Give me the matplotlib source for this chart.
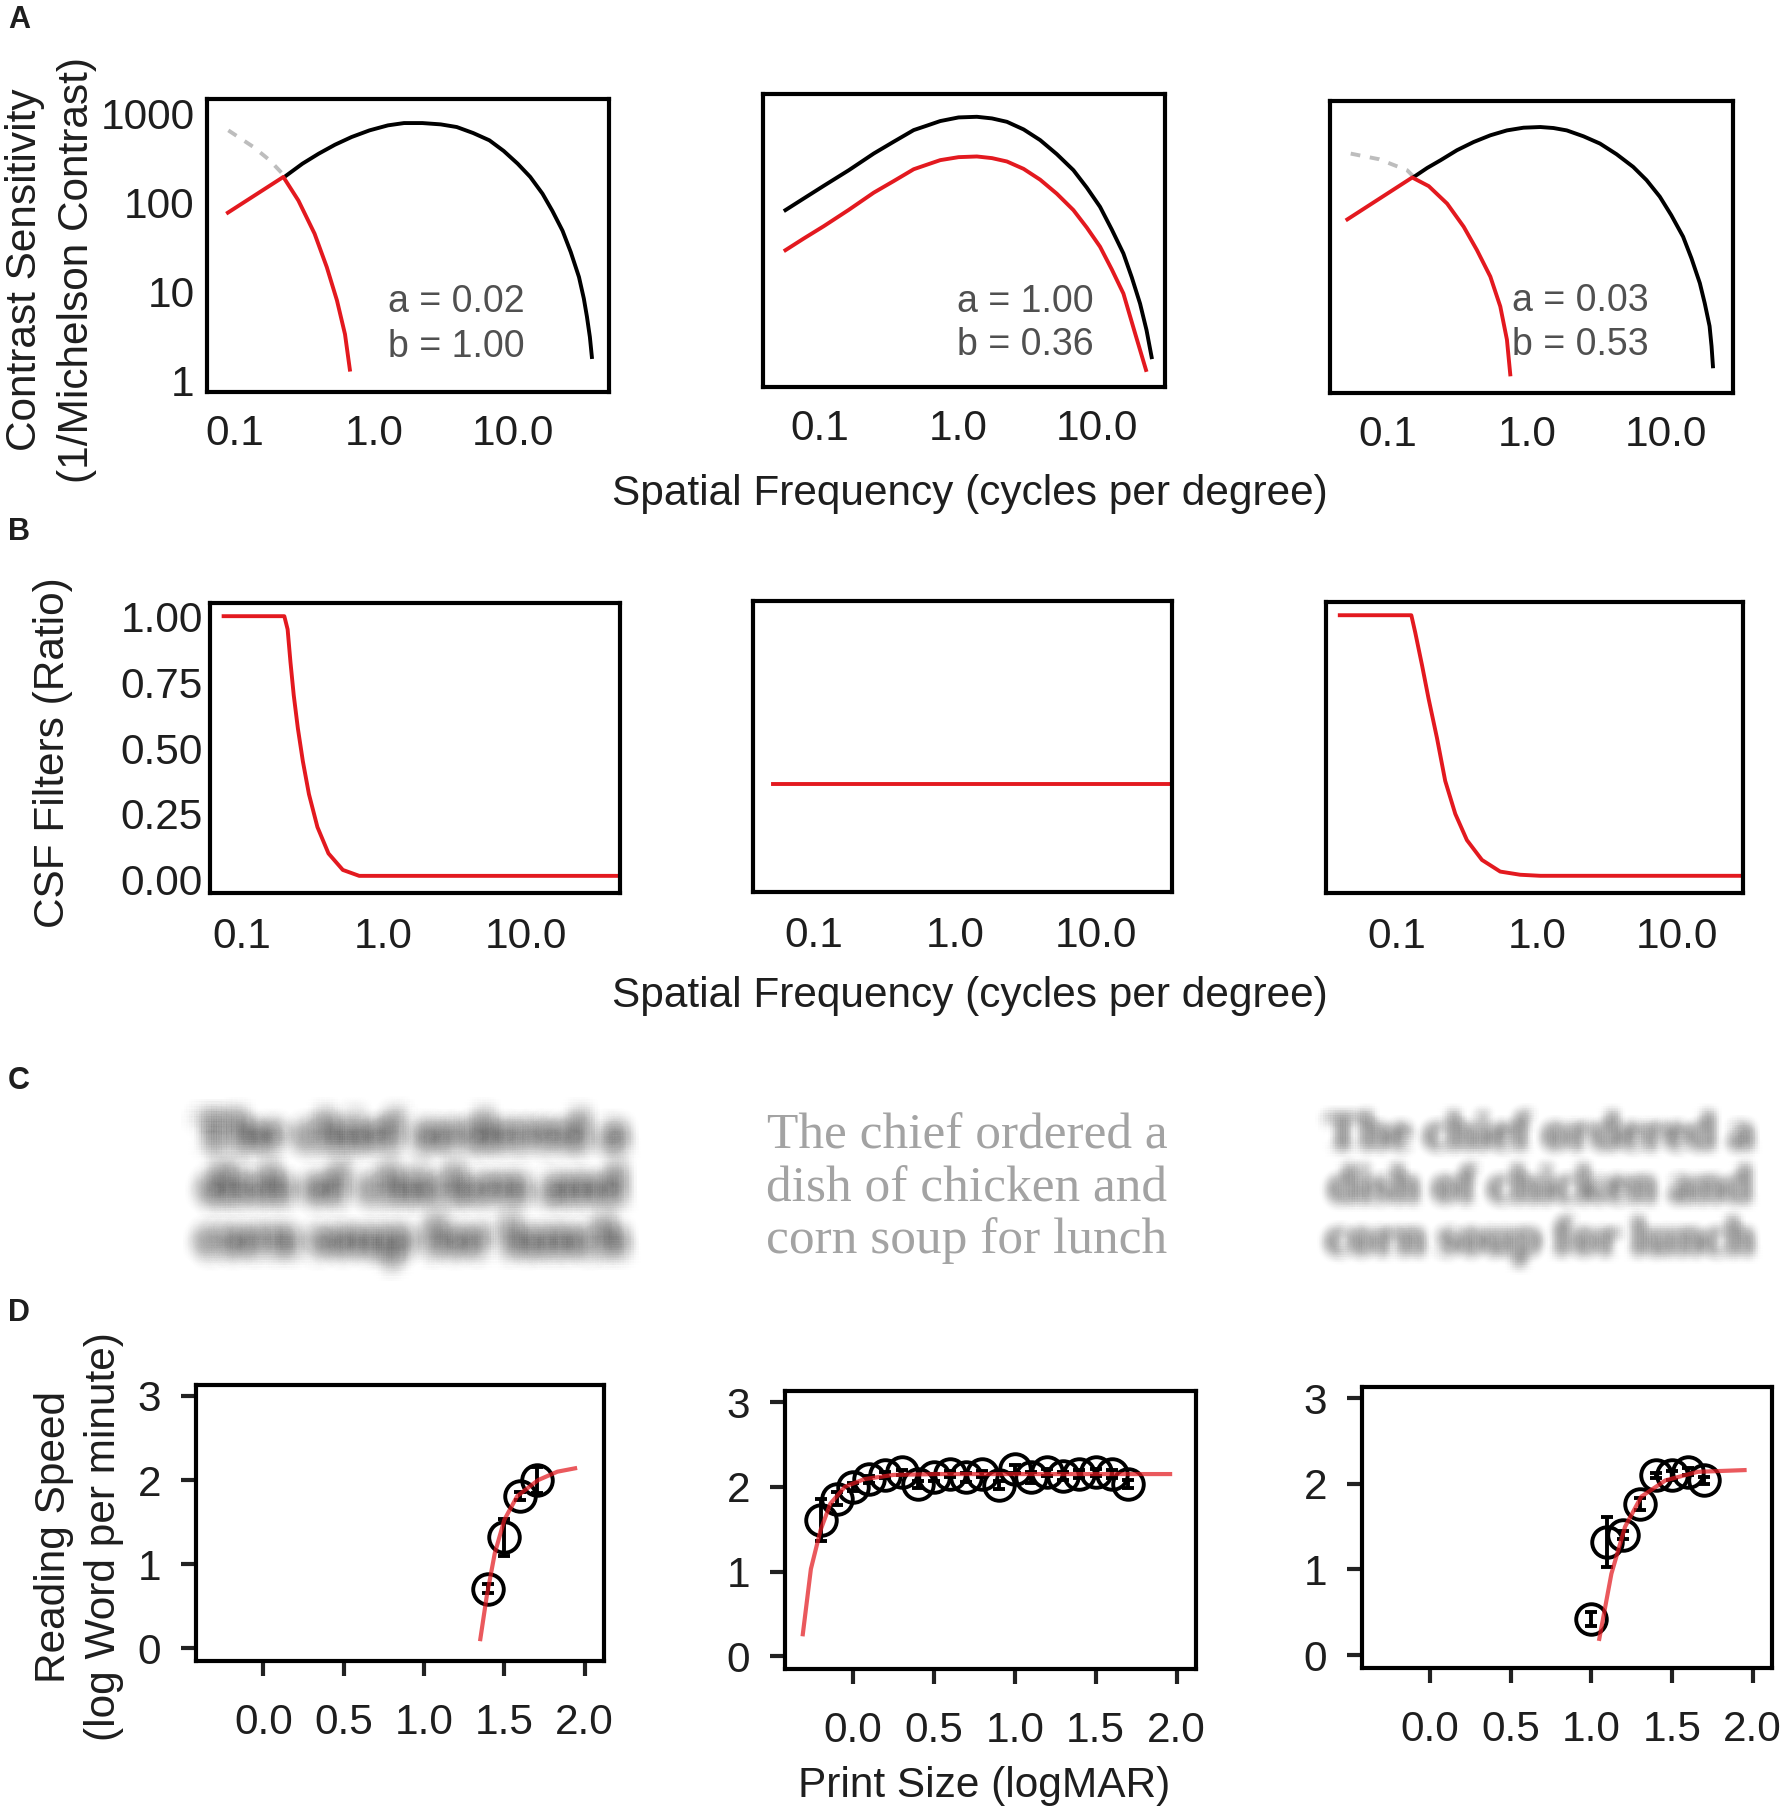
import numpy as np
import matplotlib
matplotlib.use("Agg")
import matplotlib.pyplot as plt
import matplotlib.patheffects as pe
from matplotlib.transforms import ScaledTranslation

plt.rcParams['font.family'] = ['Liberation Sans', 'DejaVu Sans']

# ---------------- data ----------------
# panel A: contrast sensitivity functions (cpd, sensitivity)
a1_black_f = [0.23, 0.306, 0.40, 0.524, 0.69, 0.929, 1.26, 1.645, 2.23, 3.02, 3.94, 5.17, 6.76,
              8.57, 10.8, 13.3, 16.3, 19.2, 22.7, 26.0, 29.8, 32.3, 34.0, 35.7, 36.9]
a1_black_s = [196, 272, 352, 444, 542, 644, 733, 778, 778, 752, 702, 601, 498,
              378, 272, 193, 125, 80, 48, 27.7, 14.5, 8.3, 5.2, 3.07, 1.83]
a1_gray_f = [0.0897, 0.136, 0.178, 0.229]
a1_gray_s = [644, 419, 297, 196]
a1_red_f = [0.089, 0.223, 0.286, 0.374, 0.458, 0.542, 0.619, 0.671]
a1_red_s = [76.6, 193, 105, 44.5, 18.7, 7.9, 3.3, 1.32]

a2_black_f = [0.0566, 0.0767, 0.107, 0.162, 0.245, 0.340, 0.475, 0.592, 0.738, 1.0, 1.355, 1.74, 2.23,
              2.94, 3.87, 5.10, 6.72, 8.38, 10.45, 12.7, 15.4, 17.7, 20.3, 22.6, 24.6]
a2_black_s = [71.9, 97.2, 135, 202, 311, 421, 570, 640, 720, 791, 804, 771, 706,
              580, 440, 306, 202, 129, 78.3, 43.5, 23.4, 12.6, 6.4, 3.22, 1.6]
a2_red_f = [0.0566, 0.0767, 0.107, 0.162, 0.245, 0.340, 0.475, 0.592, 0.738, 1.0, 1.355, 1.74,
            2.23, 2.94, 3.87, 5.10, 6.72, 8.38, 10.45, 12.7, 15.4, 18.7, 22.4]
a2_red_s = [25.5, 34.5, 47.5, 72.5, 113, 152, 207, 233, 262, 283, 288, 276,
            253, 209, 158, 110, 71.9, 45.9, 27.9, 15.5, 8.3, 2.96, 1.15]

a3_black_f = [0.153, 0.191, 0.238, 0.313, 0.413, 0.545, 0.718, 0.946, 1.25, 1.555, 1.94, 2.56, 3.37,
              4.44, 5.85, 7.30, 9.1, 11.0, 13.4, 15.4, 17.7, 19.2, 20.8, 21.5, 22.0]
a3_black_s = [202, 255, 311, 404, 500, 595, 676, 725, 738, 719, 676, 580, 480,
              364, 262, 186, 121, 75, 42.8, 24.4, 12.8, 7.6, 4.2, 2.49, 1.48]
a3_gray_f = [0.0536, 0.0857, 0.137, 0.153]
a3_gray_s = [370, 320, 240, 202]
a3_red_f = [0.0507, 0.149, 0.196, 0.266, 0.350, 0.436, 0.545, 0.643, 0.718, 0.759]
a3_red_s = [67.1, 199, 159, 101, 55.5, 30.3, 15.2, 7.0, 2.96, 1.2]

param_a = ["0.02", "1.00", "0.03"]
param_b = ["1.00", "0.36", "0.53"]

# panel B: CSF filters (ratio)
b1_f = [0.0748, 0.200, 0.211, 0.221, 0.233, 0.249, 0.270, 0.298, 0.342, 0.409, 0.516, 0.673, 45.8]
b1_r = [1.0, 1.0, 0.95, 0.825, 0.70, 0.575, 0.45, 0.325, 0.20, 0.10, 0.0375, 0.015, 0.015]
b2_f = [0.051, 34.8]
b2_r = [0.36, 0.36]
b3_f = [0.0389, 0.1265, 0.135, 0.151, 0.168, 0.193, 0.221, 0.261, 0.316, 0.405, 0.547, 0.760, 1.06, 29.1]
b3_r = [1.0, 1.0, 0.934, 0.81, 0.685, 0.536, 0.374, 0.249, 0.150, 0.075, 0.031, 0.019, 0.015, 0.015]

sentence = ["The chief ordered a", "dish of chicken and", "corn soup for lunch"]

# panel D: reading speed vs print size
d1_x = [1.4, 1.5, 1.6, 1.7]
d1_y = [0.71, 1.32, 1.81, 2.00]
d1_e = [0.05, 0.22, 0.05, 0.15]
d1_fit_x = [1.35, 1.39, 1.44, 1.50, 1.58, 1.71, 1.83, 1.94]
d1_fit_y = [0.11, 0.62, 1.13, 1.53, 1.81, 2.00, 2.10, 2.14]

d2_x = [-0.2, -0.1, 0.0, 0.1, 0.2, 0.3, 0.4, 0.5, 0.6, 0.7, 0.8, 0.9, 1.0, 1.1, 1.2, 1.3, 1.4, 1.5, 1.6, 1.7]
d2_y = [1.61, 1.86, 2.00, 2.09, 2.14, 2.17, 2.03, 2.11, 2.15, 2.11, 2.15, 2.02, 2.21, 2.11, 2.17, 2.13, 2.15, 2.17, 2.15, 2.03]
d2_e = [0.25, 0.08, 0.05, 0.04, 0.04, 0.03, 0.04, 0.04, 0.04, 0.05, 0.04, 0.05, 0.05, 0.06, 0.04, 0.05, 0.05, 0.04, 0.05, 0.05]
d2_fit_x = [-0.31, -0.26, -0.20, -0.14, -0.05, 0.07, 0.25, 0.52, 1.06, 1.96]
d2_fit_y = [0.26, 1.03, 1.49, 1.80, 2.00, 2.09, 2.14, 2.15, 2.15, 2.15]

d3_x = [1.0, 1.1, 1.2, 1.3, 1.4, 1.5, 1.6, 1.7]
d3_y = [0.42, 1.32, 1.40, 1.76, 2.10, 2.10, 2.14, 2.04]
d3_e = [0.08, 0.29, 0.05, 0.07, 0.03, 0.05, 0.04, 0.04]
d3_fit_x = [1.05, 1.125, 1.21, 1.31, 1.46, 1.66, 1.95]
d3_fit_y = [0.19, 0.95, 1.50, 1.85, 2.04, 2.14, 2.16]

# ---------------- figure ----------------
W, H = 1788, 1814
fig = plt.figure(figsize=(W / 100, H / 100), dpi=100)

RED = '#e3191f'
TXT = '#1e1e1e'
FS = 30.5


def px_axes(x0, y0, x1, y1):
    return fig.add_axes([x0 / W, 1 - y1 / H, (x1 - x0) / W, (y1 - y0) / H])


def frame(ax):
    for sp in ax.spines.values():
        sp.set_linewidth(3.0)
        sp.set_color('black')


def ftext(x, y, s, **kw):
    return fig.text(x / W, 1 - y / H, s, **kw)


def drop_ylabels(ax, px):
    # the tick labels sit a little below their ticks in the original
    off = ScaledTranslation(0, -px / 100, fig.dpi_scale_trans)
    for lab in ax.get_yticklabels():
        lab.set_transform(lab.get_transform() + off)


def csf_axes(box, xlim, show_y):
    ax = px_axes(*box)
    ax.set_xscale('log')
    ax.set_yscale('log')
    ax.set_xlim(*xlim)
    ax.set_ylim(0.74, 1450)
    ax.minorticks_off()
    ax.set_xticks([0.1, 1, 10])
    ax.set_xticklabels(['0.1', '1.0', '10.0'])
    if show_y:
        ax.set_yticks([1, 10, 100, 1000])
        ax.set_yticklabels(['1', '10', '100', '1000'])
    else:
        ax.set_yticks([])
    ax.tick_params(length=0, labelsize=FS, labelcolor=TXT)
    ax.tick_params(axis='x', pad=16)
    ax.tick_params(axis='y', pad=9)
    frame(ax)
    return ax


lw = 2.8
# ---- A ----
axA1 = csf_axes((207, 99, 609, 392), (0.063, 49), True)
axA1.plot(a1_gray_f, a1_gray_s, color='#bdbdbd', lw=lw, ls=(0, (2.5, 2.5)))
axA1.plot(a1_black_f, a1_black_s, color='black', lw=lw)
axA1.plot(a1_red_f, a1_red_s, color=RED, lw=lw)

axA2 = csf_axes((763, 94, 1165, 387), (0.039, 30.7), False)
axA2.plot(a2_black_f, a2_black_s, color='black', lw=lw)
axA2.plot(a2_red_f, a2_red_s, color=RED, lw=lw)

axA3 = csf_axes((1330, 101, 1733, 393), (0.038, 30.7), False)
axA3.plot(a3_gray_f, a3_gray_s, color='#bdbdbd', lw=lw, ls=(0, (2.5, 2.5)))
axA3.plot(a3_black_f, a3_black_s, color='black', lw=lw)
axA3.plot(a3_red_f, a3_red_s, color=RED, lw=lw)

for ax, xa, ya1, ya2, pa, pb in [(axA1, 1.26, 7.6, 2.4, param_a[0], param_b[0]),
                                 (axA2, 0.97, 6.7, 2.19, param_a[1], param_b[1]),
                                 (axA3, 0.78, 8.0, 2.6, param_a[2], param_b[2])]:
    ax.text(xa, ya1, 'a = ' + pa, fontsize=27, color='#505050', va='center', ha='left')
    ax.text(xa, ya2, 'b = ' + pb, fontsize=27, color='#505050', va='center', ha='left')

ftext(25, 270, 'Contrast Sensitivity', rotation=90, fontsize=FS, color=TXT, ha='center', va='center')
ftext(77, 270, '(1/Michelson Contrast)', rotation=90, fontsize=FS, color=TXT, ha='center', va='center')
ftext(970, 494, 'Spatial Frequency (cycles per degree)', fontsize=FS, color=TXT, ha='center', va='center')


# ---- B ----
def filt_axes(box, xlim, show_y):
    ax = px_axes(*box)
    ax.set_xscale('log')
    ax.set_xlim(*xlim)
    ax.set_ylim(-0.05, 1.05)
    ax.minorticks_off()
    ax.set_xticks([0.1, 1, 10])
    ax.set_xticklabels(['0.1', '1.0', '10.0'])
    if show_y:
        ax.set_yticks([0, 0.25, 0.5, 0.75, 1.0])
        ax.set_yticklabels(['0.00', '0.25', '0.50', '0.75', '1.00'])
        drop_ylabels(ax, 7)
    else:
        ax.set_yticks([])
    ax.tick_params(length=0, labelsize=FS, labelcolor=TXT)
    ax.tick_params(axis='x', pad=17)
    ax.tick_params(axis='y', pad=5)
    frame(ax)
    return ax


axB1 = filt_axes((210, 603, 620, 893), (0.060, 46), True)
axB1.plot(b1_f, b1_r, color=RED, lw=lw)
axB2 = filt_axes((753, 601, 1172, 892), (0.037, 34.8), False)
axB2.plot(b2_f, b2_r, color=RED, lw=lw)
axB3 = filt_axes((1326, 602, 1743, 893), (0.031, 29.9), False)
axB3.plot(b3_f, b3_r, color=RED, lw=lw)

ftext(53, 753, 'CSF Filters (Ratio)', rotation=90, fontsize=FS, color=TXT, ha='center', va='center')
ftext(970, 996, 'Spatial Frequency (cycles per degree)', fontsize=FS, color=TXT, ha='center', va='center')


# ---- C : the sentence, sharp and blurred ----
def blur_effects(sigma, a0, color, step=2.5):
    # stack of faint shifted copies -> gaussian-like blur of one text artist
    effs = []
    offs = np.arange(-2 * sigma, 2 * sigma + 0.01, step)
    for dx in offs:
        for dy in offs:
            w = np.exp(-(dx ** 2 + dy ** 2) / (2 * sigma ** 2))
            if w < 0.08:
                continue
            effs.append(pe.SimplePatchShadow(offset=(dx * 0.72, dy * 0.72),
                                             shadow_rgbFace=color, alpha=min(1.0, w * a0)))
    return effs


line_y = [1136, 1189, 1241]
serif = ['Liberation Serif', 'DejaVu Serif']
blur_left = blur_effects(8.5, 0.021, '#3c3c3c')
blur_right = blur_effects(5.5, 0.036, '#404040')
for ly, s in zip(line_y, sentence):
    ftext(967, ly, s, fontsize=37, family=serif, color='#a3a3a3', ha='center', va='center')
    ftext(412, ly, s, fontsize=37, family=serif, weight='bold', ha='center', va='center',
          path_effects=blur_left)
    ftext(1540, ly, s, fontsize=37, family=serif, weight='bold', ha='center', va='center',
          path_effects=blur_right)


# ---- D ----
def rs_axes(box):
    ax = px_axes(*box)
    ax.set_xlim(-0.42, 2.12)
    ax.set_ylim(-0.15, 3.13)
    ax.set_xticks([0.0, 0.5, 1.0, 1.5, 2.0])
    ax.set_xticklabels(['0.0', '0.5', '1.0', '1.5', '2.0'])
    ax.set_yticks([0, 1, 2, 3])
    ax.set_yticklabels(['0', '1', '2', '3'])
    drop_ylabels(ax, 6)
    ax.tick_params(direction='out', length=11, width=3.0, color='#222222',
                   labelsize=FS, labelcolor=TXT)
    ax.tick_params(axis='x', pad=19)
    ax.tick_params(axis='y', pad=14)
    frame(ax)
    return ax


def rs_plot(ax, x, y, e, fx, fy):
    ax.errorbar(x, y, yerr=e, fmt='none', ecolor='black', elinewidth=2.8, capsize=4.5, capthick=2.8)
    ax.plot(x, y, 'o', ms=22, mfc='none', mec='black', mew=2.8)
    ax.plot(fx, fy, color='#e3191f', alpha=0.72, lw=3.0)


axD1 = rs_axes((196, 1385, 604, 1661))
rs_plot(axD1, d1_x, d1_y, d1_e, d1_fit_x, d1_fit_y)
axD2 = rs_axes((785, 1391, 1196, 1669))
rs_plot(axD2, d2_x, d2_y, d2_e, d2_fit_x, d2_fit_y)
axD3 = rs_axes((1362, 1387, 1772, 1668))
rs_plot(axD3, d3_x, d3_y, d3_e, d3_fit_x, d3_fit_y)

ftext(54, 1537, 'Reading Speed', rotation=90, fontsize=FS, color=TXT, ha='center', va='center')
ftext(104, 1537, '(log Word per minute)', rotation=90, fontsize=FS, color=TXT, ha='center', va='center')
ftext(984, 1786, 'Print Size (logMAR)', fontsize=FS, color=TXT, ha='center', va='center')

# panel letters
for lab, ly in zip(['A', 'B', 'C', 'D'], [20, 532, 1081, 1313]):
    ftext(8, ly, lab, fontsize=22, weight='bold', color=TXT, ha='left', va='center')

fig.savefig('out.png', dpi=100)
